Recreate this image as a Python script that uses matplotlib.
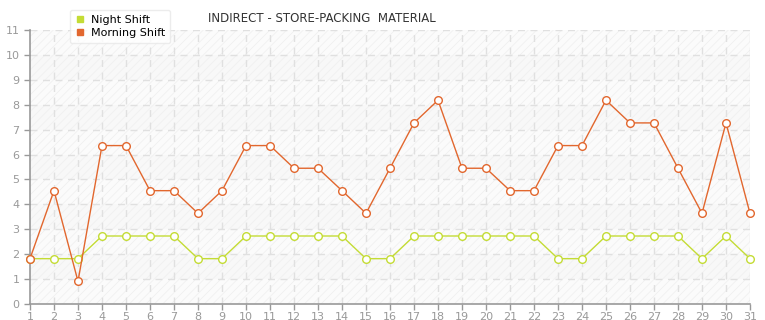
import matplotlib
matplotlib.use('Agg')
import matplotlib.pyplot as plt
import numpy as np

days = list(range(1, 32))
morning = [1.82, 4.55, 0.91, 6.36, 6.36, 4.55, 4.55, 3.64, 4.55, 6.36, 6.36, 5.45, 5.45, 4.55, 3.64, 5.45,
           7.27, 8.18, 5.45, 5.45, 4.55, 4.55, 6.36, 6.36, 8.18, 7.27, 7.27, 5.45, 3.64, 7.27, 3.64]
night = [1.82, 1.82, 1.82, 2.73, 2.73, 2.73, 2.73, 1.82, 1.82, 2.73, 2.73, 2.73, 2.73, 2.73, 1.82, 1.82,
         2.73, 2.73, 2.73, 2.73, 2.73, 2.73, 1.82, 1.82, 2.73, 2.73, 2.73, 2.73, 1.82, 2.73, 1.82]
title = 'INDIRECT - STORE-PACKING  MATERIAL'

orange = '#e2672e'
green = '#c4dc35'
grey = '#999999'

plt.rcParams['font.family'] = ['DejaVu Sans']
plt.rcParams['hatch.color'] = '#eeeeee'
plt.rcParams['hatch.linewidth'] = 0.6

fig = plt.figure(figsize=(7.65, 3.2), dpi=100)
ax = fig.add_axes([30 / 765, 16 / 320, 720 / 765, 274 / 320])
ax.set_xlim(1, 31)
ax.set_ylim(0, 11)

# alternating bands with faint hatching
for i in range(11):
    ax.axhspan(i, i + 1, facecolor='#fbfbfb' if i % 2 == 0 else '#f8f8f8',
               edgecolor='none', zorder=0)
ax.axhspan(0, 11, facecolor='none', hatch='////', edgecolor='#f0f0f0', lw=0, zorder=0)

for y in range(1, 12):
    ax.axhline(y, color='#e0e0e0', lw=1, ls=(0, (5, 4)), zorder=1)
for x in days[1:]:
    ax.axvline(x, color='#e0e0e0', lw=1, ls=(0, (5, 4)), zorder=1)

ax.plot(days, night, color=green, lw=1, marker='o', ms=5.5, mfc='white', mec=green,
        mew=1, clip_on=False, zorder=3, label='Night Shift')
ax.plot(days, morning, color=orange, lw=1, marker='o', ms=5.5, mfc='white', mec=orange,
        mew=1, clip_on=False, zorder=4, label='Morning Shift')

ax.set_xticks(days)
ax.set_yticks(range(0, 12))
ax.tick_params(axis='both', colors=grey, labelcolor=grey, labelsize=8, length=4, width=1)
ax.tick_params(axis='x', pad=1.5)
for s in ['top', 'right']:
    ax.spines[s].set_visible(False)
for s in ['left', 'bottom']:
    ax.spines[s].set_color(grey)
    ax.spines[s].set_linewidth(1.2)

fig.text(322 / 765, 1 - 18 / 320, title, ha='center', va='center', fontsize=8.5, color='#333333')

leg = fig.legend(handles=[plt.Line2D([], [], ls='none', marker='s', ms=4, color=green, label='Night Shift'),
                          plt.Line2D([], [], ls='none', marker='s', ms=4, color=orange, label='Morning Shift')],
                 loc='upper left', bbox_to_anchor=(64 / 765, 1 - 4 / 320), frameon=True, fancybox=True,
                 fontsize=8, handlelength=0.8, handletextpad=0.6, labelspacing=0.25,
                 borderpad=0.5, shadow=False)
leg.get_frame().set_edgecolor('#e8e8e8')
leg.get_frame().set_facecolor('white')

fig.savefig('out.png', dpi=100)
